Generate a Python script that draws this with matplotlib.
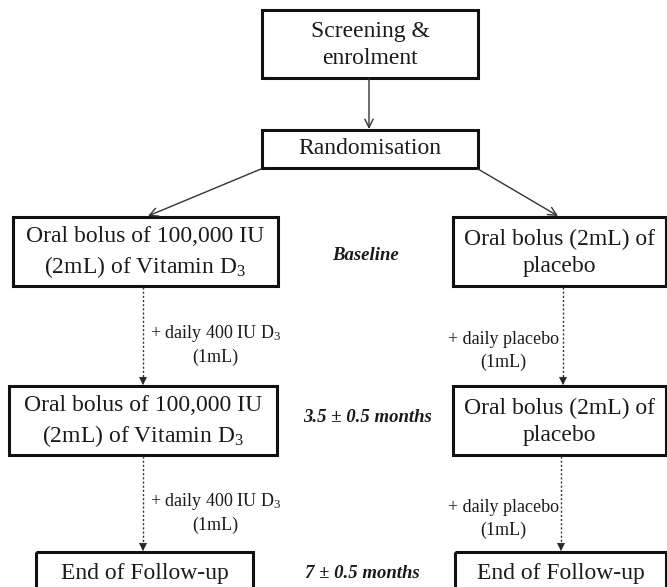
import matplotlib
matplotlib.use("Agg")
import matplotlib.pyplot as plt
from matplotlib.patches import Rectangle, FancyArrowPatch

plt.rcParams['font.family'] = ['Liberation Serif', 'DejaVu Serif']
plt.rcParams['mathtext.fontset'] = 'custom'
plt.rcParams['mathtext.rm'] = 'Liberation Serif'
plt.rcParams['mathtext.it'] = 'Liberation Serif:italic'

# ---- content ----
box_texts = [
    "Screening &\nenrolment",
    "Randomisation",
    "Oral bolus of 100,000 IU\n(2mL) of Vitamin D$_\\mathrm{3}$",
    "Oral bolus (2mL) of\nplacebo",
    "Oral bolus of 100,000 IU\n(2mL) of Vitamin D$_\\mathrm{3}$",
    "Oral bolus (2mL) of\nplacebo",
    "End of Follow-up",
    "End of Follow-up",
]
time_labels = ["Baseline", "3.5 ± 0.5 months", "7 ± 0.5 months"]
supp_left = ["+ daily 400 IU D$_\\mathrm{3}$", "(1mL)"]
supp_right = ["+ daily placebo", "(1mL)"]

# ---- layout (pixel space) ----
W, H = 667, 587
fig = plt.figure(figsize=(W / 100, H / 100), dpi=100)
ax = fig.add_axes([0, 0, 1, 1])
ax.set_xlim(0, W)
ax.set_ylim(H, 0)
ax.axis('off')

# x0, y0, x1, y1, text centre y
box_pos = [
    (262, 10, 478, 78, 45),
    (262, 130, 478, 168, 149),
    (13, 217, 278, 286, 253),
    (453, 217, 666, 286, 253),
    (9, 386, 277, 455, 422),
    (453, 386, 666, 455, 422),
    (36, 552, 253, 600, 574),
    (455, 552, 666, 600, 574),
]
txt_color = '#1a1a1a'
fs_main = 17
for (x0, y0, x1, y1, cy), t in zip(box_pos, box_texts):
    ax.add_patch(Rectangle((x0, y0), x1 - x0, y1 - y0, fill=False,
                           edgecolor='#111111', linewidth=2.2, clip_on=False))
    ax.text((x0 + x1) / 2, cy, t, ha='center', va='center', fontsize=fs_main,
            color=txt_color, linespacing=1.38)

# solid arrows
def solid_arrow(p0, p1):
    ax.add_patch(FancyArrowPatch(p0, p1, arrowstyle='->,head_length=6,head_width=3',
                                 mutation_scale=1, color='#333333', linewidth=1.0,
                                 shrinkA=0, shrinkB=0))

solid_arrow((369, 78), (369, 129))
solid_arrow((261, 169), (148, 216))
solid_arrow((478, 169), (558, 216))

# dotted arrows
def dotted_arrow(x, y0, y1):
    ax.plot([x, x], [y0, y1 - 5], color='#333333', linewidth=1.0, linestyle=(0, (1.5, 1.5)))
    ax.add_patch(FancyArrowPatch((x, y1 - 7), (x, y1), arrowstyle='-|>,head_length=5,head_width=2.5',
                                 mutation_scale=1, color='#222222', linewidth=0.5,
                                 shrinkA=0, shrinkB=0))

dotted_arrow(143, 287, 385)
dotted_arrow(563, 287, 385)
dotted_arrow(143, 456, 551)
dotted_arrow(561, 456, 551)

fs_small = 13
for yoff in (0, 168):
    ax.text(150, 333 + yoff, supp_left[0], ha='left', va='center', fontsize=fs_small, color=txt_color)
    ax.text(215, 357 + yoff, supp_left[1], ha='center', va='center', fontsize=fs_small, color=txt_color)
    ax.text(559, 339 + yoff, supp_right[0], ha='right', va='center', fontsize=fs_small, color=txt_color)
    ax.text(503, 362 + yoff, supp_right[1], ha='center', va='center', fontsize=fs_small, color=txt_color)

time_pos = [(366, 255), (368, 418), (362, 573)]
for t, (x, y) in zip(time_labels, time_pos):
    ax.text(x, y, t, ha='center', va='center', fontsize=13.5, fontweight='bold',
            fontstyle='italic', color=txt_color)

fig.savefig("out.png", dpi=100)
